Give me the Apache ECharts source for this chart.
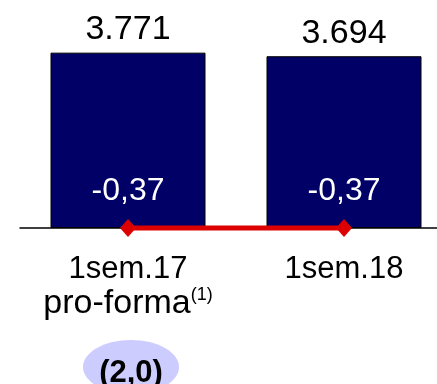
<!DOCTYPE html>
<html>
<head>
<meta charset="utf-8">
<script src="https://cdn.jsdelivr.net/npm/echarts@6/dist/echarts.min.js"></script>
<style>
  html, body { margin: 0; padding: 0; background: #fff; }
  #chart { width: 437px; height: 384px; }
</style>
</head>
<body>
<div id="chart"></div>
<script>
const categories = ['1sem.17\n{pf|pro-forma}{sup|(1)}', '1sem.18']
const barValues = [3771, 3694]
const lineValues = [-0.37, -0.37]
const noteText = '(2,0)'

const font = "'Liberation Sans', Arial, sans-serif"

const fmtThousands = v => String(v).replace(/\B(?=(\d{3})+(?!\d))/g, '.')
const fmtDecimal = v => v.toFixed(2).replace('.', ',')

const chart = echarts.init(document.getElementById('chart'))
chart.setOption({
  animation: false,
  grid: {
    top: 42,
    left: 20,
    width: 432,
    bottom: 156,
    outerBoundsMode: 'none'
  },
  xAxis: {
    type: 'category',
    data: categories,
    axisLine: { lineStyle: { color: '#000', width: 1.5 } },
    axisTick: { show: false },
    axisLabel: {
      interval: 0,
      margin: 24,
      color: '#000',
      fontFamily: font,
      fontSize: 31,
      lineHeight: 34,
      rich: {
        pf: { fontFamily: font, fontSize: 34, color: '#000', lineHeight: 36 },
        sup: { fontFamily: font, fontSize: 18, color: '#000', verticalAlign: 'top', lineHeight: 16 }
      }
    }
  },
  yAxis: {
    type: 'value',
    min: 0,
    max: 4000,
    show: false,
    splitLine: { show: false }
  },
  series: [
    {
      type: 'bar',
      data: barValues,
      barWidth: 155,
      itemStyle: { color: '#000066', borderColor: '#000', borderWidth: 1 },
      label: {
        show: true,
        position: 'top',
        distance: 6,
        color: '#000',
        fontFamily: font,
        fontSize: 34,
        formatter: p => fmtThousands(p.value)
      }
    },
    {
      type: 'line',
      data: lineValues,
      clip: false,
      z: 5,
      symbol: 'diamond',
      symbolSize: [16, 18],
      lineStyle: { color: '#dd0000', width: 5 },
      itemStyle: { color: '#dd0000' },
      label: {
        show: true,
        position: 'top',
        distance: 12,
        color: '#fff',
        fontFamily: font,
        fontSize: 32,
        formatter: p => fmtDecimal(p.value)
      }
    }
  ]
})

const cx = chart.convertToPixel({ xAxisIndex: 0 }, categories[0]) + 3
chart.setOption({
  graphic: [
    {
      type: 'ellipse',
      shape: { cx: cx, cy: 367, rx: 48, ry: 27 },
      style: { fill: '#ccccff' }
    },
    {
      type: 'text',
      x: cx,
      y: 373,
      style: {
        text: noteText,
        fill: '#000',
        font: 'bold 31px ' + font,
        textAlign: 'center',
        textVerticalAlign: 'middle'
      }
    }
  ]
})
</script>
</body>
</html>
